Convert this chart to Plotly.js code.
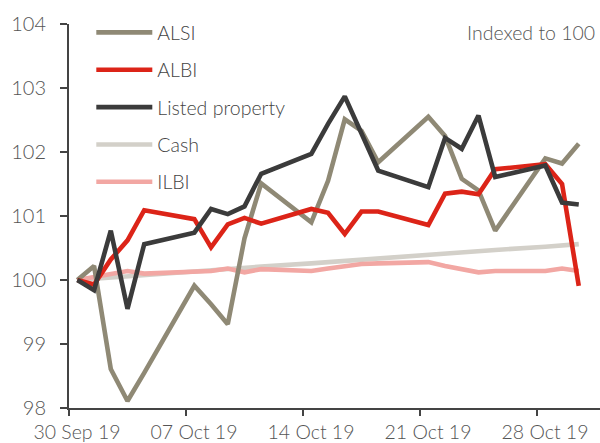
<!DOCTYPE html>
<html>
<head>
<meta charset="utf-8">
<script src="https://cdn.plot.ly/plotly-3.0.1.min.js"></script>
<style>html,body{margin:0;padding:0;background:#fff;}#chart{width:600px;height:443px;}</style>
</head>
<body>
<div id="chart"></div>
<script>
var dates = ["2019-09-30","2019-10-01","2019-10-02","2019-10-03","2019-10-04",
  "2019-10-07","2019-10-08","2019-10-09","2019-10-10","2019-10-11",
  "2019-10-14","2019-10-15","2019-10-16","2019-10-17","2019-10-18",
  "2019-10-21","2019-10-22","2019-10-23","2019-10-24","2019-10-25",
  "2019-10-28","2019-10-29","2019-10-30"];
var alsi = [100.00,100.22,98.61,98.11,98.55, 99.91,99.62,99.31,100.65,101.51,
  100.90,101.55,102.51,102.33,101.84, 102.55,102.25,101.58,101.40,100.77,
  101.90,101.82,102.13];
var albi = [100.00,99.93,100.32,100.62,101.09, 100.95,100.51,100.87,100.97,100.88,
  101.11,101.05,100.72,101.07,101.07, 100.86,101.35,101.38,101.34,101.73,
  101.81,101.50,99.91];
var listed = [100.00,99.84,100.77,99.55,100.56, 100.74,101.11,101.03,101.15,101.66,
  101.97,102.44,102.87,102.29,101.71, 101.45,102.22,102.05,102.57,101.61,
  101.79,101.21,101.18];
var cash = [100.00,100.02,100.04,100.06,100.07, 100.13,100.15,100.17,100.19,100.21,
  100.26,100.28,100.30,100.32,100.34, 100.39,100.41,100.43,100.45,100.47,
  100.52,100.54,100.56];
var ilbi = [100.00,100.05,100.10,100.14,100.10, 100.13,100.14,100.18,100.12,100.17,
  100.14,100.18,100.22,100.25,100.26, 100.28,100.22,100.17,100.12,100.14,
  100.14,100.18,100.14];
var seriesNames = ["ALSI","ALBI","Listed property","Cash","ILBI"];
var colors = ["#8f8975","#dc2418","#3b3b3b","#d3d0c9","#f2a7a3"];
var note = "Indexed to 100";

var FONT = "Lato, 'Open Sans', sans-serif";
function tr(y, i, rank) {
  return {x: dates, y: y, name: seriesNames[i], type: "scatter", mode: "lines",
    xperiod: 86400000, xperiodalignment: "middle", legendgroup: "g" + i,
    line: {color: colors[i], width: 4.6}, legendrank: rank};
}
var data = [tr(cash,3,4), tr(ilbi,4,5), tr(alsi,0,1), tr(albi,1,2), tr(listed,2,3)];

var layout = {
  width: 600, height: 443,
  margin: {l: 69, r: 0, t: 24, b: 35, pad: 0},
  paper_bgcolor: "#fff", plot_bgcolor: "#fff",
  font: {family: FONT, size: 19, color: "#555", weight: 300},
  showlegend: true,
  legend: {x: 0.042, y: 1.028, xanchor: "left", yanchor: "top", bgcolor: "rgba(0,0,0,0)",
    font: {family: FONT, size: 19.5, color: "#444", weight: 300},
    tracegroupgap: 9, itemwidth: 56, traceorder: "grouped"},
  xaxis: {type: "date", range: ["2019-09-30", "2019-10-31 18:30"],
    tick0: "2019-09-30", dtick: 7*86400000, tickformat: "%d %b %y",
    showgrid: false, zeroline: false, showline: true, linecolor: "#444", linewidth: 2,
    ticks: "outside", ticklen: 6, tickwidth: 2, tickcolor: "#444", ticklabelshift: 8,
    tickfont: {family: FONT, size: 19.5, color: "#555", weight: 300}},
  yaxis: {range: [98, 104], dtick: 1, tick0: 98,
    showgrid: false, zeroline: false, showline: true, linecolor: "#444", linewidth: 2,
    ticks: "outside", ticklen: 7, tickwidth: 2, tickcolor: "#444", ticklabelstandoff: 10,
    tickfont: {family: FONT, size: 20, color: "#555", weight: 300}},
  annotations: [{text: note, xref: "paper", yref: "paper", x: 0.995, y: 0.978,
    xanchor: "right", yanchor: "middle", showarrow: false,
    font: {family: FONT, size: 19.5, color: "#555", weight: 300}}]
};
Plotly.newPlot("chart", data, layout, {displayModeBar: false, staticPlot: true});
</script>
</body>
</html>
